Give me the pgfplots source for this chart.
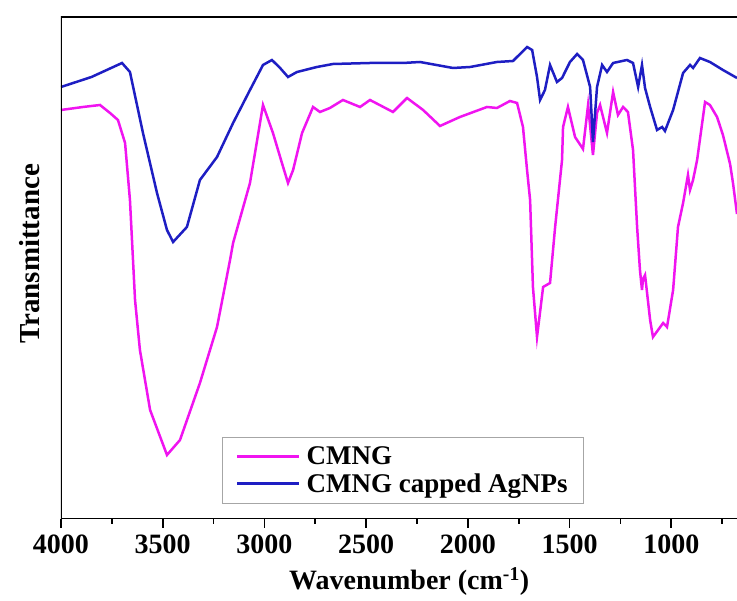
\documentclass[border=0pt]{standalone}
\usepackage{fontspec}
\setmainfont{Liberation Serif}
\usepackage{pgfplots}
\pgfplotsset{compat=1.18}
\definecolor{pinkC}{RGB}{240,20,240}
\definecolor{blueC}{RGB}{30,30,195}
\begin{document}
\begin{tikzpicture}
\path[use as bounding box] (-61pt,-82pt) rectangle (676pt,519pt);
\begin{axis}[
  at={(0,0)}, anchor=south west,
  scale only axis, width=676pt, height=502pt,
  x dir=reverse, xmin=677, xmax=4000, ymin=0, ymax=502,
  xtick={1000,1500,...,4000}, minor xtick={750,1250,...,3750}, ytick=\empty,
  xtick pos=left, tick align=outside,
  major tick length=9pt, minor tick length=5pt,
  every tick/.style={black, line width=1.8pt},
  axis line style={draw=none},
  xticklabel style={font=\fontsize{28}{30}\selectfont\bfseries, yshift=-3pt},
  /pgf/number format/assume math mode=true,
  /pgf/number format/1000 sep={},
  xlabel={\fontsize{28}{30}\selectfont\bfseries Wavenumber (cm\textsuperscript{-1})},
  ylabel={\fontsize{29}{30}\selectfont\bfseries Transmittance},
  xlabel style={at={(axis description cs:0.515,0)}, anchor=center, yshift=-63pt},
  ylabel style={at={(axis description cs:-0.0459,0.528)}, anchor=center},
  legend style={at={(axis description cs:0.238,0.163)}, anchor=north west,
    draw=gray!70, line width=0.6pt, font=\fontsize{27}{28}\selectfont\bfseries,
    inner xsep=14pt, inner ysep=7pt, row sep=2pt,
    nodes={inner ysep=2.5pt, inner xsep=2pt}},
  legend cell align=left,
  legend image code/.code={\draw[#1] (0pt,0pt) -- (62pt,0pt); \path (66pt,0pt);},
]
\addplot[pinkC, line width=2.5pt] coordinates {
(4000,409)(3892,412)(3808,414)(3759,406)(3720,399)(3685,376)(3661,319)(3636,219)
(3612,169)(3562,109)(3479,64)(3415,79)(3317,136)(3233,192)(3169,259)(3154,276)
(3071,336)(3007,414)(2958,386)(2914,356)(2884,336)(2859,349)(2815,386)(2761,412)
(2727,407)(2678,411)(2614,419)(2530,412)(2481,419)(2368,407)(2299,421)(2220,409)
(2137,393)(2039,402)(1906,412)(1857,411)(1793,418)(1758,416)(1729,392)(1709,349)
(1694,319)(1680,232)(1660,182)(1630,232)(1596,236)(1571,292)(1537,359)(1532,392)
(1508,412)(1473,382)(1434,370)(1409,414)(1385,364)(1365,406)(1350,414)(1316,386)
(1286,427)(1262,404)(1237,412)(1213,407)(1188,369)(1168,292)(1154,249)(1144,229)
(1139,240)(1129,244)(1104,199)(1090,182)(1065,189)(1040,196)(1021,192)(991,229)
(967,292)(942,316)(918,344)(908,329)(893,339)(873,359)(834,417)(810,414)(775,402)
(746,384)(711,355)(696,335)(677,305)
};
\addlegendentry{CMNG}
\addplot[blueC, line width=2.5pt] coordinates {
(4000,432)(3850,442)(3700,456)(3661,447)(3597,386)(3528,326)(3479,289)(3449,277)
(3381,292)(3317,339)(3233,362)(3154,396)(3071,429)(3007,454)(2963,459)(2923,451)
(2884,442)(2840,447)(2742,452)(2663,455)(2481,456)(2320,456)(2235,457)(2073,451)
(1989,452)(1857,457)(1778,458)(1709,472)(1684,469)(1660,442)(1645,419)(1621,429)
(1596,454)(1562,437)(1537,441)(1498,457)(1463,465)(1434,459)(1399,432)(1385,377)
(1365,432)(1340,454)(1316,447)(1286,456)(1218,459)(1188,456)(1163,432)(1144,454)
(1129,431)(1104,412)(1070,389)(1045,392)(1031,388)(991,409)(942,446)(908,454)
(893,451)(859,461)(810,457)(746,449)(677,441)
};
\addlegendentry{CMNG capped AgNPs}
\draw[black, line width=2pt] (axis description cs:1,1) -- (axis description cs:0,1) -- (axis description cs:0,0) -- (axis description cs:1,0);
\end{axis}
\end{tikzpicture}
\end{document}
